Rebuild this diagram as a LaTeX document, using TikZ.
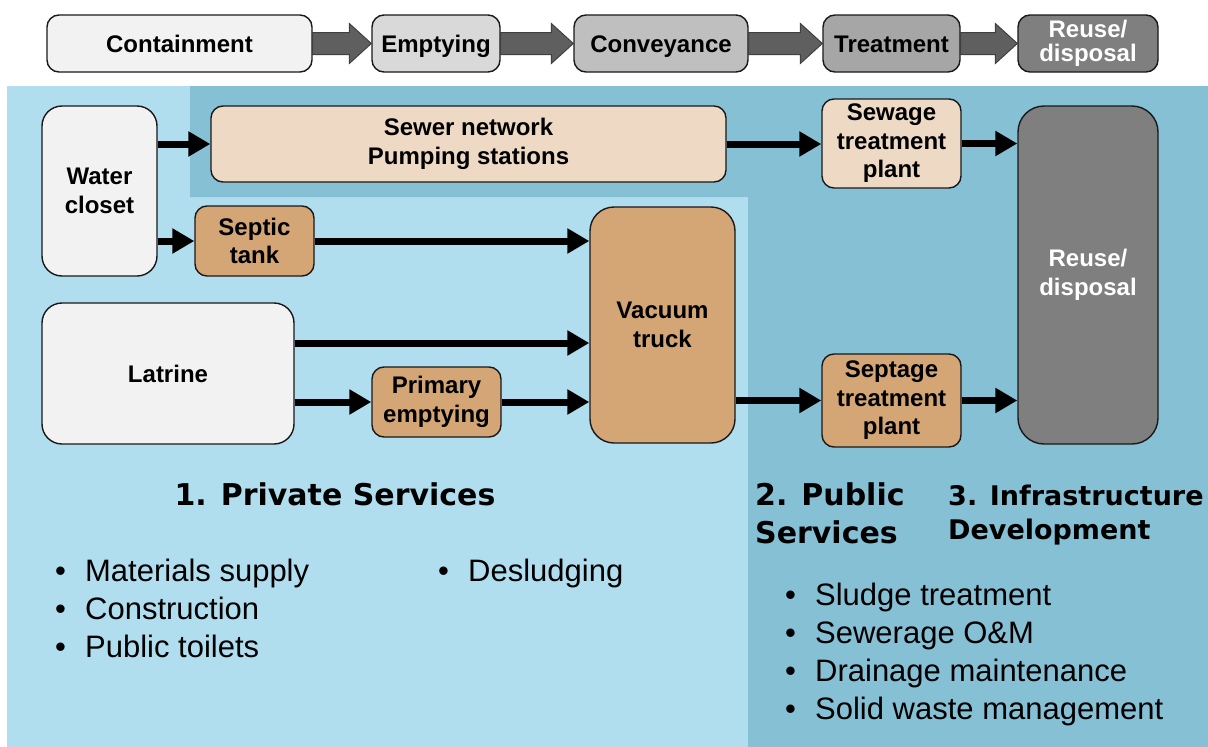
\documentclass[tikz,border=0pt]{standalone}
\usepackage{fontspec}
\setmainfont{Liberation Sans}
\newfontfamily\headfont{DejaVu Sans}
\usetikzlibrary{arrows.meta,calc}
\definecolor{lightbg}{HTML}{B0DEEE}
\definecolor{darkbg}{HTML}{86C0D5}
\definecolor{tan}{HTML}{D4A575}
\definecolor{lighttan}{HTML}{EEDAC4}
\definecolor{paleg}{HTML}{F2F2F2}
\definecolor{g1}{HTML}{D9D9D9}
\definecolor{g2}{HTML}{BFBFBF}
\definecolor{g3}{HTML}{A6A6A6}
\definecolor{g4}{HTML}{7F7F7F}
\definecolor{arrowgray}{HTML}{5F5F5F}
\newcommand\fatarrow[2]{%
  \filldraw[fill=arrowgray,draw=black!75,line width=1pt,line join=miter]
    ($(#1.east)+(0,-11)$) -- ($(#2.west)+(-22,-11)$) -- ($(#2.west)+(-22,-20)$)
    -- (#2.west) -- ($(#2.west)+(-22,20)$) -- ($(#2.west)+(-22,11)$)
    -- ($(#1.east)+(0,11)$) -- cycle;}
\begin{document}
\begin{tikzpicture}[x=1pt,y=-1pt,
  box/.style={draw=black!90, line width=1.4pt, rounded corners=12pt, align=center,
    inner sep=0pt, font=\bfseries\fontsize{24}{28.5}\selectfont},
  oneline/.style={text height=17.5pt, text depth=0pt},
  tall/.style={box, rounded corners=20pt},
  flow/.style={line width=7pt, -{Triangle[length=22pt,width=24pt]}},
  heading/.style={font=\headfont\bfseries\fontsize{30}{38}\selectfont, inner sep=0pt},
  bul/.style={anchor=base west, inner sep=0pt, font=\fontsize{31}{38}\selectfont}
]
\useasboundingbox (0,0) rectangle (1208,747);
\fill[white] (0,0) rectangle (1208,747);
% backgrounds
\fill[lightbg] (7,86) rectangle (748,747);
\fill[darkbg] (190,86) -- (1208,86) -- (1208,747) -- (748,747) -- (748,197) -- (190,197) -- cycle;

% top chain
\node[box, oneline, fill=paleg, minimum width=265pt, minimum height=57pt] (cont) at (179.5,43.5) {Containment};
\node[box, oneline, fill=g1, minimum width=128pt, minimum height=57pt] (empt) at (436,43.5) {Emptying};
\node[box, oneline, fill=g2, minimum width=174pt, minimum height=57pt] (conv) at (661,43.5) {Conveyance};
\node[box, oneline, fill=g3, minimum width=137pt, minimum height=57pt] (treat) at (891.5,43.5) {Treatment};
\node[box, fill=g4, text=white, minimum width=140pt, minimum height=57pt,
  font=\bfseries\fontsize{24}{24}\selectfont] (reuseTop) at (1088,43.5) {Reuse/\\disposal};
\fatarrow{cont}{empt}
\fatarrow{empt}{conv}
\fatarrow{conv}{treat}
\fatarrow{treat}{reuseTop}

% main nodes
\node[tall, fill=paleg, minimum width=115pt, minimum height=170pt] (wc) at (99.5,191) {Water\\closet};
\node[box, fill=lighttan, minimum width=515pt, minimum height=76pt] (sewer) at (468.5,144) {Sewer network\\Pumping stations};
\node[box, fill=lighttan, minimum width=139pt, minimum height=89pt] (stp) at (891.5,143.5) {Sewage\\treatment\\plant};
\node[tall, fill=g4, text=white, rounded corners=26pt, minimum width=140pt, minimum height=338pt] (reuse) at (1088,275) {Reuse/\\disposal};
\node[box, fill=tan, minimum width=119pt, minimum height=70pt] (septic) at (254.5,241) {Septic\\tank};
\node[tall, fill=tan, rounded corners=24pt, minimum width=145pt, minimum height=236pt] (vac) at (662.5,325) {Vacuum\\truck};
\node[tall, oneline, fill=paleg, minimum width=252pt, minimum height=141pt] (latrine) at (168,373.5) {Latrine};
\node[box, fill=tan, minimum width=129pt, minimum height=70pt] (prim) at (436.5,402) {Primary\\emptying};
\node[box, fill=tan, minimum width=139pt, minimum height=93pt] (septage) at (891.5,400.5) {Septage\\treatment\\plant};

% connectors
\draw[flow] (wc.east |- sewer.west) -- (sewer.west);
\draw[flow] (sewer.east) -- (stp.west |- sewer.east);
\draw[flow] (stp.east) -- (stp.east -| reuse.west);
\draw[flow] (wc.east |- septic.west) -- (septic.west);
\draw[flow] (septic.east) -- (septic.east -| vac.west);
\coordinate (latup) at ([yshift=30.5pt]latrine.east);
\draw[flow] (latup) -- (latup -| vac.west);
\draw[flow] (latrine.east |- prim.west) -- (prim.west);
\draw[flow] (prim.east) -- (prim.east -| vac.west);
\draw[flow] (vac.east |- septage.west) -- (septage.west);
\draw[flow] (septage.east) -- (septage.east -| reuse.west);

% headings
\node[heading, anchor=base] (h1) at (335,505) {1. Private Services};
\node[heading, anchor=base west, align=left] (h2a) at (755,505) {2. Public};
\node[heading, anchor=base west, align=left] (h2b) at (755,543) {Services};
\node[heading, anchor=base west, align=left, font=\headfont\bfseries\fontsize{27}{36}\selectfont] (h3a) at (948,505) {3. Infrastructure};
\node[heading, anchor=base west, align=left, font=\headfont\bfseries\fontsize{27}{36}\selectfont] (h3b) at (948,539) {Development};

% bullet lists
\node[bul] (b1) at (55,581) {\makebox[30pt][l]{•}Materials supply};
\node[bul] (b2) at (55,619) {\makebox[30pt][l]{•}Construction};
\node[bul] (b3) at (55,657) {\makebox[30pt][l]{•}Public toilets};
\node[bul] (b4) at (438,581) {\makebox[30pt][l]{•}Desludging};
\node[bul] (b5) at (785,605) {\makebox[30pt][l]{•}Sludge treatment};
\node[bul] (b6) at (785,643) {\makebox[30pt][l]{•}Sewerage O\&M};
\node[bul] (b7) at (785,681) {\makebox[30pt][l]{•}Drainage maintenance};
\node[bul] (b8) at (785,719) {\makebox[30pt][l]{•}Solid waste management};
\end{tikzpicture}
\end{document}
